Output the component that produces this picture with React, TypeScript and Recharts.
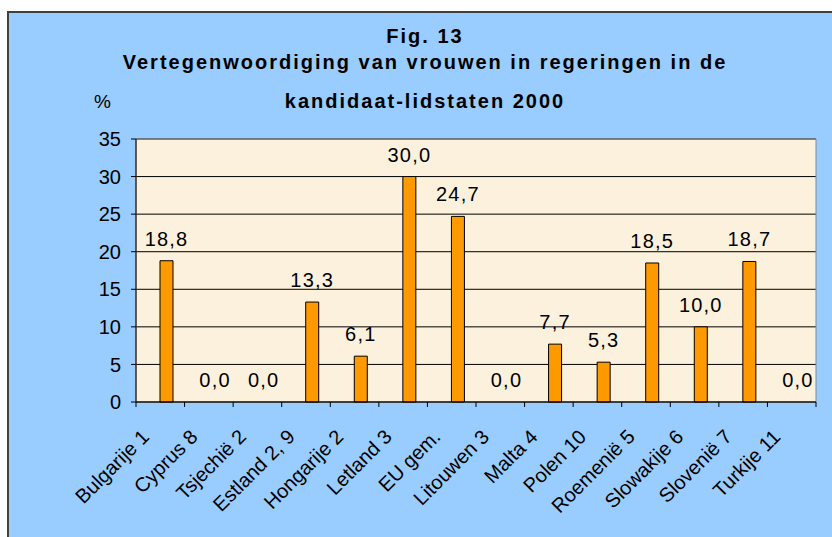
import { BarChart, Bar, XAxis, YAxis, CartesianGrid, ReferenceArea, Rectangle } from "recharts";

const countries = [
  "Bulgarije 1", "Cyprus 8", "Tsjechië 2", "Estland 2, 9", "Hongarije 2", "Letland 3", "EU gem.",
  "Litouwen 3", "Malta 4", "Polen 10", "Roemenië 5", "Slowakije 6", "Slovenië 7", "Turkije 11",
];
const shares = [18.8, 0, 0, 13.3, 6.1, 30.0, 24.7, 0, 7.7, 5.3, 18.5, 10.0, 18.7, 0];
const yTicks = [0, 5, 10, 15, 20, 25, 30, 35];
const titleLines = ["Fig. 13", "Vertegenwoordiging van vrouwen in regeringen in de", "kandidaat-lidstaten 2000"];

const data = countries.map((name, i) => ({ name, empty: null, value: shares[i] }));

const FONT = '"Liberation Sans", Arial, sans-serif';
const fmt = (v: number) => v.toFixed(1).replace(".", ",");

function CountryTick(props: any) {
  const { x, y, payload, index } = props;
  const half = payload.offset ?? 0;
  const tx = x - 10;
  const ty = y + 36;
  return (
    <g>
      <line x1={x - half} y1={y} x2={x - half} y2={y + 5} stroke="#000" />
      {index === countries.length - 1 && <line x1={x + half} y1={y} x2={x + half} y2={y + 5} stroke="#000" />}
      <text x={tx} y={ty} textAnchor="end" fontSize={20} fill="#000" fontFamily={FONT} transform={`rotate(-45 ${tx} ${ty})`}>
        {payload.value}
      </text>
    </g>
  );
}

// bar + its value label, so that zero values still get their "0,0"
function LabelledBar(props: any) {
  const { x, y, width, height, value } = props;
  const v = Array.isArray(value) ? value[1] : value;
  return (
    <g>
      {height > 0 && <Rectangle x={x} y={y} width={width} height={height} fill="#FF9900" stroke="#000" strokeWidth={1} />}
      <text
        x={x + width / 2}
        y={y - 15}
        textAnchor="middle"
        fontSize={20}
        fontFamily={FONT}
        fill="#000"
        letterSpacing={1.2}
      >
        {fmt(v ?? 0)}
      </text>
    </g>
  );
}

export default function App() {
  return (
    <div
      style={{
        position: "fixed", left: 7, top: 11, width: 825, height: 526, boxSizing: "border-box",
        background: "#99CCFF", borderLeft: "2px solid #404040", borderTop: "2px solid #404040",
      }}
    >
      <svg width={823} height={524} style={{ position: "absolute", left: 0, top: 0 }}>
        <g fontFamily={FONT} fontWeight="bold" fontSize={20} fill="#000" textAnchor="middle" letterSpacing={2}>
          <text x={416} y={30}>{titleLines[0]}</text>
          <text x={416} y={56}>{titleLines[1]}</text>
          <text x={416} y={95}>{titleLines[2]}</text>
        </g>
        <text x={85} y={95} fontFamily={FONT} fontSize={19} fill="#000">%</text>
      </svg>
      <div style={{ position: "absolute", left: 0, top: 0 }}>
        <BarChart
          width={823}
          height={524}
          data={data}
          margin={{ top: 126, right: 16, left: 0, bottom: 0 }}
          barSize={13}
          barGap={0}
        >
          <CartesianGrid vertical={false} stroke="#000" fill="#FCF1DC" fillOpacity={1} />
          <ReferenceArea y1={0} y2={35} fill="none" stroke="#888" strokeWidth={1} ifOverflow="visible" />
          <XAxis
            dataKey="name"
            height={135}
            interval={0}
            tickLine={false}
            tickSize={0}
            tickMargin={0}
            stroke="#000"
            tick={<CountryTick />}
          />
          <YAxis
            width={127}
            domain={[0, 35]}
            ticks={yTicks}
            interval={0}
            tickSize={5}
            tickMargin={10}
            stroke="#000"
            tick={{ fill: "#000", fontSize: 20, fontFamily: FONT }}
          />
          <Bar dataKey="empty" fill="#FF9900" isAnimationActive={false} />
          <Bar dataKey="value" isAnimationActive={false} shape={<LabelledBar />} />
        </BarChart>
      </div>
    </div>
  );
}
